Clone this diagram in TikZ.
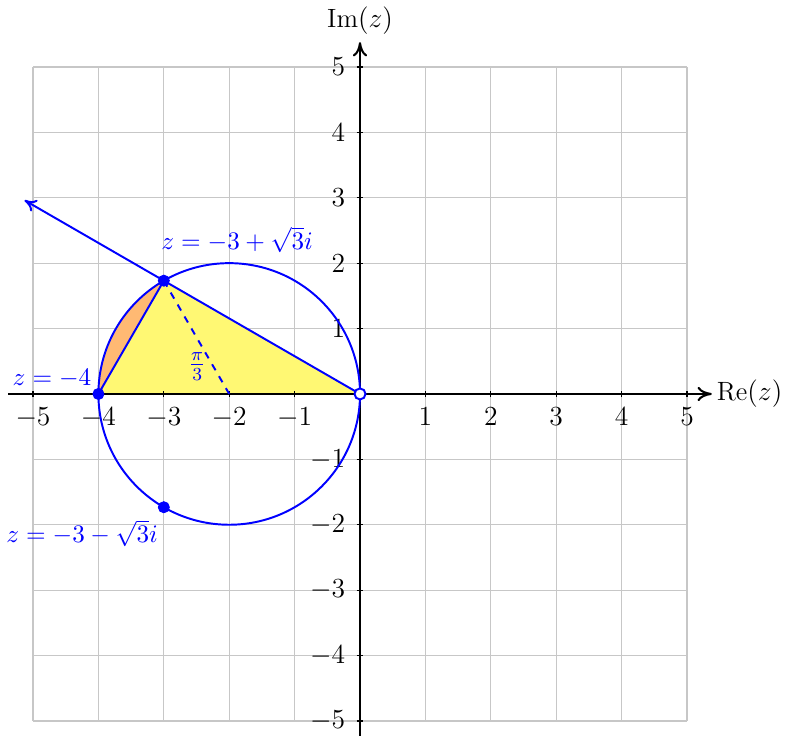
\documentclass[tikz,border=0pt]{standalone}
\usepackage{amsmath}
\usetikzlibrary{arrows.meta}
\begin{document}
\begin{tikzpicture}[x=1cm,y=1cm,
  every node/.style={font=\fontsize{11.5}{14}\selectfont},
  gridline/.style={black!22, line width=0.5pt},
  axisline/.style={black, line width=0.9pt, -{To[length=2.2mm,width=2.2mm]}},
  blueline/.style={blue, line width=0.85pt},
  bluelabel/.style={text=blue, inner sep=1pt, font=\fontsize{10.8}{13}\selectfont},
  dotfull/.style={circle, fill=blue, draw=blue, inner sep=0pt, minimum size=4.8pt},
  dotopen/.style={circle, fill=white, draw=blue, line width=0.85pt, inner sep=0pt, minimum size=4.8pt},
  xtick/.style={anchor=north, inner sep=0pt, yshift=-0.2cm},
  ytick/.style={anchor=east, inner sep=0pt, xshift=-0.22cm}
]
\useasboundingbox (-5.505,-5.229) rectangle (6.529,6.024);
% grid
\draw[gridline] (-5,-5) grid (5,5);
% coordinates
\coordinate (O) at (0,0);
\coordinate (A) at (-4,0);
\coordinate (B) at (-3,{sqrt(3)});
\coordinate (C) at (-3,{-sqrt(3)});
\coordinate (M) at (-2,0);
\coordinate (R) at (-5.13,{5.13/sqrt(3)});
% fills
\fill[yellow!55] (A) -- (B) -- (O) -- cycle;
\fill[orange!55] (A) arc[start angle=180, end angle=120, radius=2] -- cycle;
% axes
\coordinate (xl) at (-5.38,0);
\coordinate (xr) at (5.38,0);
\coordinate (yb) at (0,-5.3);
\coordinate (yt) at (0,5.38);
\draw[axisline] (xl) -- (xr);
\draw[axisline] (yb) -- (yt);
\node[anchor=west, inner sep=2pt] (relab) at (xr) {Re$(z)$};
\node[anchor=south, inner sep=3pt] (imlab) at (yt) {Im$(z)$};
% ticks
\foreach \k in {-5,-4,-3,-2,-1,1,2,3,4,5} {
  \draw[black, line width=0.5pt] (\k,-0.05) -- (\k,0.05);
  \draw[black, line width=0.5pt] (-0.05,\k) -- (0.05,\k);
  \node[xtick] (xt\k) at (\k,0) {$\k$};
  \node[ytick] (yt\k) at (0,\k) {$\k$};
}
% circle
\draw[blueline] (M) circle[radius=2];
% lines
\draw[blueline] (A) -- (B);
\draw[blueline, dashed] (B) -- (M);
\draw[blueline, -{To[length=1.8mm,width=2mm]}] (O) -- (R);
% dots
\node[dotfull] (pA) at (A) {};
\node[dotfull] (pB) at (B) {};
\node[dotfull] (pC) at (C) {};
\node[dotopen] (pO) at (O) {};
% labels
\node[bluelabel] (lB) at (-1.88,2.36) {$z=-3+\sqrt{3}i$};
\node[bluelabel] (lA) at (-4.71,0.23) {$z=-4$};
\node[bluelabel] (lC) at (-4.25,-2.13) {$z=-3-\sqrt{3}i$};
\node[bluelabel, font=\fontsize{12}{14}\selectfont] (lang) at (-2.49,0.42) {$\frac{\pi}{3}$};
\end{tikzpicture}
\end{document}
